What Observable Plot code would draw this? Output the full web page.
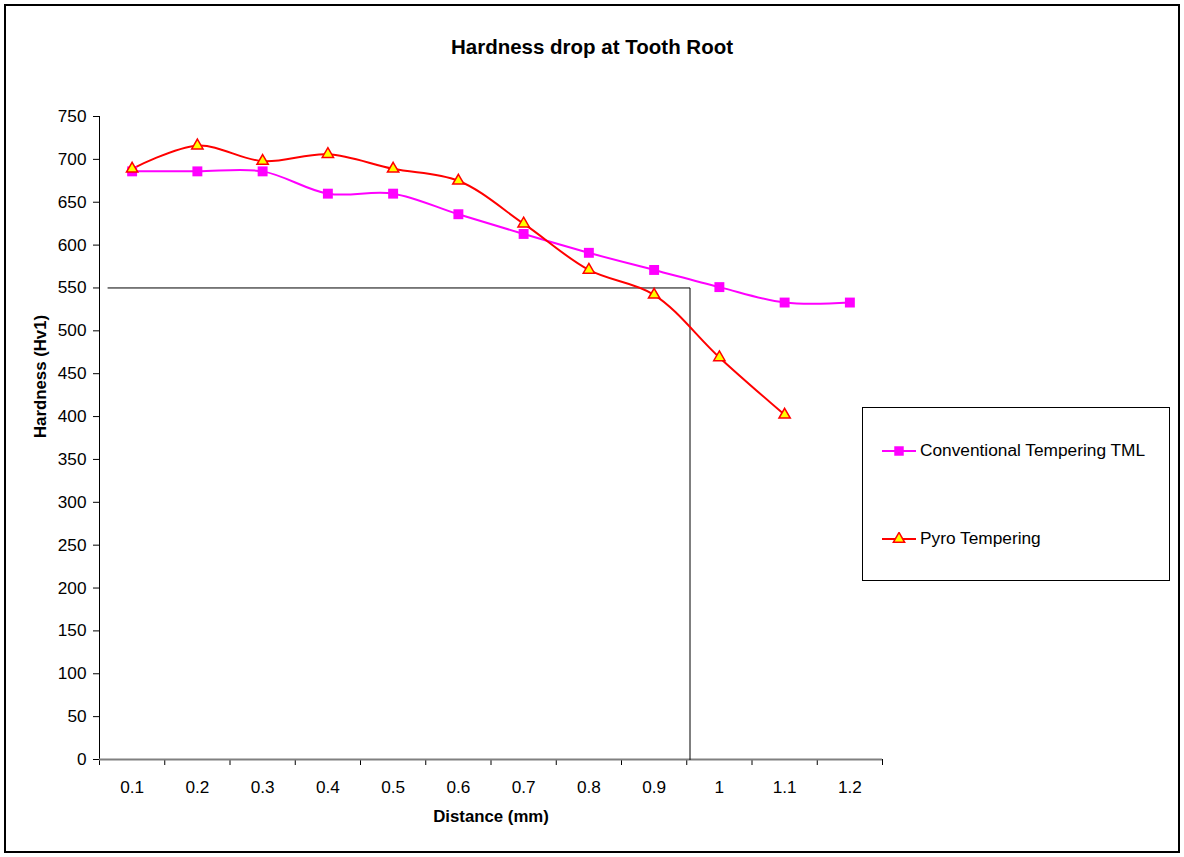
<!DOCTYPE html>
<html>
<head>
<meta charset="utf-8">
<script src="https://cdn.jsdelivr.net/npm/d3@7"></script>
<script src="https://cdn.jsdelivr.net/npm/@observablehq/plot@0.6"></script>
<style>
  body { margin: 0; background: #fff; font-family: "Liberation Sans", Arial, sans-serif; }
  #wrap { position: relative; width: 1184px; height: 857px; overflow: hidden; }
  #border { position: absolute; left: 4px; top: 4px; width: 1176px; height: 849px; border: 2px solid #000; box-sizing: border-box; }
  #title { position: absolute; left: 0; width: 1184px; top: 35px; text-align: center; font-weight: bold; font-size: 20.5px; color: #000; }
  #chart { position: absolute; left: 0; top: 0; }
  #legend { position: absolute; left: 862px; top: 407px; width: 308px; height: 174px; border: 1px solid #000; box-sizing: border-box; background: #fff; }
  .item { position: absolute; left: 19px; display: flex; align-items: center; font-size: 17.3px; color: #000; }
  .item svg { margin-right: 4px; }
</style>
</head>
<body>
<div id="wrap">
  <div id="border"></div>
  <div id="title">Hardness drop at Tooth Root</div>
  <div id="chart"></div>
  <div id="legend"></div>
</div>
<script>
// ---- data ----
const distances = [0.1, 0.2, 0.3, 0.4, 0.5, 0.6, 0.7, 0.8, 0.9, 1.0, 1.1, 1.2];
const xLabels = ["0.1", "0.2", "0.3", "0.4", "0.5", "0.6", "0.7", "0.8", "0.9", "1", "1.1", "1.2"];
const conventional = [686, 686, 686, 660, 660, 636, 613, 591, 571, 551, 533, 533];
const pyro = [689, 716, 698, 706, 689, 675, 625, 571, 542, 469, 402];
const yTicks = [0, 50, 100, 150, 200, 250, 300, 350, 400, 450, 500, 550, 600, 650, 700, 750];
const categoryEdges = [0.05, 0.15, 0.25, 0.35, 0.45, 0.55, 0.65, 0.75, 0.85, 0.95, 1.05, 1.15, 1.25];
const refX = [0.063, 0.955, 0.955];
const refY = [550, 550, 0];
const seriesNames = ["Conventional Tempering TML", "Pyro Tempering"];

const convData = conventional.map((v, i) => ({x: distances[i], y: v}));
const pyroData = pyro.map((v, i) => ({x: distances[i], y: v}));
const refData = refX.map((x, i) => ({x, y: refY[i]}));

const labelOf = new Map(distances.map((d, i) => [d, xLabels[i]]));

const chart = Plot.plot({
  width: 1184,
  height: 857,
  marginLeft: 99,
  marginRight: 302,
  marginTop: 116,
  marginBottom: 98,
  style: { fontFamily: "Liberation Sans, Arial, sans-serif", fontSize: "17px", background: "transparent", color: "#000" },
  x: { type: "linear", domain: [categoryEdges[0], categoryEdges[categoryEdges.length - 1]] },
  y: { domain: [0, 750] },
  marks: [
    Plot.axisY({ ticks: yTicks, tickSize: 6, tickPadding: 7, label: null, fontSize: 17.2, stroke: "#000" }),
    Plot.axisX({ ticks: categoryEdges, tickSize: 6, tickFormat: () => "", label: null, stroke: "#000" }),
    Plot.axisX({ ticks: distances, tickSize: 0, tickPadding: 21, tickFormat: d => labelOf.get(d), label: null, fontSize: 17.2 }),
    Plot.ruleX([categoryEdges[0]], { stroke: "#000", strokeWidth: 1 }),
    Plot.ruleY([0], { stroke: "#808080", strokeWidth: 2 }),
    Plot.line(refData, { x: "x", y: "y", stroke: "#000", strokeWidth: 1 }),
    Plot.line(convData, { x: "x", y: "y", stroke: "#FF00FF", strokeWidth: 2, curve: "catmull-rom" }),
    Plot.line(pyroData, { x: "x", y: "y", stroke: "#FF0000", strokeWidth: 2, curve: "catmull-rom" }),
    Plot.dot(convData, { x: "x", y: "y", symbol: "square", r: 5.6, fill: "#FF00FF", stroke: "none" }),
    Plot.dot(pyroData, { x: "x", y: "y", symbol: "triangle", r: 4.2, fill: "#FFFF00", stroke: "#FF0000", strokeWidth: 1.5 }),
    Plot.text(["Distance (mm)"], { frameAnchor: "bottom", dy: 62, fontWeight: "bold", fontSize: 16.8 }),
    Plot.text(["Hardness (Hv1)"], { frameAnchor: "left", dx: -59, rotate: -90, fontWeight: "bold", fontSize: 16.8 })
  ]
});
document.getElementById("chart").appendChild(chart);

// ---- legend ----
const legend = document.getElementById("legend");
const legendItems = [
  { name: seriesNames[0], color: "#FF00FF", sym: "square", top: 32 },
  { name: seriesNames[1], color: "#FF0000", sym: "triangle", top: 120 }
];
legendItems.forEach(it => {
  const div = document.createElement("div");
  div.className = "item";
  div.style.top = it.top + "px";
  const svg = d3.create("svg").attr("width", 34).attr("height", 14);
  svg.append("line").attr("x1", 0).attr("x2", 34).attr("y1", 7).attr("y2", 7).attr("stroke", it.color).attr("stroke-width", 2);
  if (it.sym === "square") {
    svg.append("path").attr("transform", "translate(17,7)").attr("d", d3.symbol(d3.symbolSquare, 90)()).attr("fill", "#FF00FF");
  } else {
    svg.append("path").attr("transform", "translate(17,7)").attr("d", d3.symbol(d3.symbolTriangle, 55)()).attr("fill", "#FFFF00").attr("stroke", "#FF0000").attr("stroke-width", 1.5);
  }
  div.appendChild(svg.node());
  const span = document.createElement("span");
  span.textContent = it.name;
  div.appendChild(span);
  legend.appendChild(div);
});
</script>
</body>
</html>
